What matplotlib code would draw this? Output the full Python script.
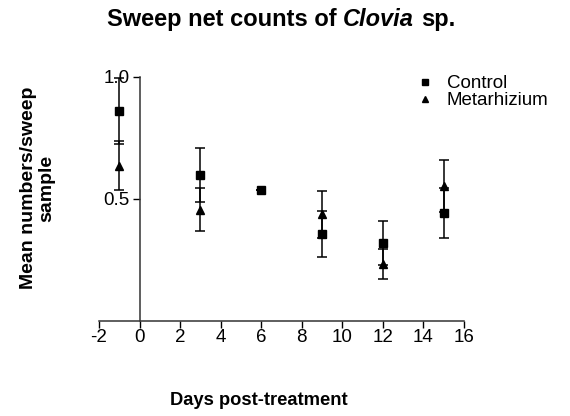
import matplotlib.pyplot as plt
from matplotlib.lines import Line2D

plt.rcParams['font.family'] = ['Liberation Sans', 'DejaVu Sans']
plt.rcParams['axes.unicode_minus'] = False

days_control = [-1, 3, 6, 9, 12, 15]
mean_control = [0.86, 0.597, 0.538, 0.357, 0.318, 0.442]
sem_control = [0.135, 0.11, 0.0, 0.094, 0.09, 0.103]

days_meta = [-1, 3, 9, 12, 15]
mean_meta = [0.635, 0.455, 0.436, 0.233, 0.553]
sem_meta = [0.10, 0.088, 0.097, 0.063, 0.105]

xticks = [-2, 0, 2, 4, 6, 8, 10, 12, 14, 16]
yticks = [0.5, 1.0]

fig = plt.figure(figsize=(5.7, 4.16), dpi=100)
ax = fig.add_axes([0.1737, 0.2284, 0.8140 - 0.1737, 0.8156 - 0.2284])

ax.errorbar(days_control, mean_control, yerr=sem_control, fmt='s', color='black',
            ms=5.5, capsize=3.6, elinewidth=1.1, capthick=1.1)
ax.errorbar(days_meta, mean_meta, yerr=sem_meta, fmt='^', color='black',
            ms=5.5, capsize=3.6, elinewidth=1.1, capthick=1.1)

ax.set_xlim(-2, 16)
ax.set_ylim(0, 1.0)
ax.set_xticks(xticks)
ax.set_yticks(yticks)
ax.set_yticklabels(['0.5', '1.0'])
ax.tick_params(axis='x', labelsize=13.5, direction='out', length=5, width=1, pad=1)
ax.tick_params(axis='y', labelsize=13.5, direction='out', length=5, width=1, pad=2)

for s in ['top', 'right']:
    ax.spines[s].set_visible(False)
ax.spines['left'].set_position(('data', 0))
ax.spines['left'].set_bounds(0, 1.0)
ax.spines['left'].set_color('#333333')
ax.spines['bottom'].set_color('#333333')
ax.spines['left'].set_linewidth(1.1)
ax.spines['bottom'].set_linewidth(1.1)

handles = [Line2D([], [], marker='s', ls='none', color='black', ms=5),
           Line2D([], [], marker='^', ls='none', color='black', ms=5)]
fig.legend(handles, ['Control', 'Metarhizium'], loc='upper left',
           bbox_to_anchor=(415.6 / 570, 1 - 75 / 416), frameon=False,
           fontsize=13.5, handletextpad=0.67, labelspacing=0.0, handlelength=1.0,
           borderpad=0, borderaxespad=0)

# title with italic genus name
fig.canvas.draw()
r = fig.canvas.get_renderer()
parts = [('Sweep net counts of', 'normal'), ('Clovia', 'italic'), ('sp.', 'normal')]
fs = 17
tmp = fig.text(0, 0, 'x x', fontsize=fs, fontweight='bold')
w1 = tmp.get_window_extent(r).width
tmp.set_text('xx')
space = w1 - tmp.get_window_extent(r).width
tmp.remove()
texts = [fig.text(0, 0, p, fontsize=fs, fontweight='bold', style=st, va='baseline')
         for p, st in parts]
widths = [t.get_window_extent(r).width for t in texts]
total = sum(widths) + space * (len(parts) - 1)
x = 281 - total / 2
for t, w in zip(texts, widths):
    t.set_position((x / 570, 1 - 26 / 416))
    x += w + space

fig.text(258.5 / 570, 1 - 405 / 416, 'Days post-treatment', ha='center', va='baseline',
         fontsize=13.2, fontweight='bold')
fig.text(37.5 / 570, 1 - 188 / 416, 'Mean numbers/sweep\nsample', ha='center', va='center',
         rotation=90, fontsize=14, fontweight='bold', linespacing=1.05)

fig.savefig('out.png', dpi=100)
